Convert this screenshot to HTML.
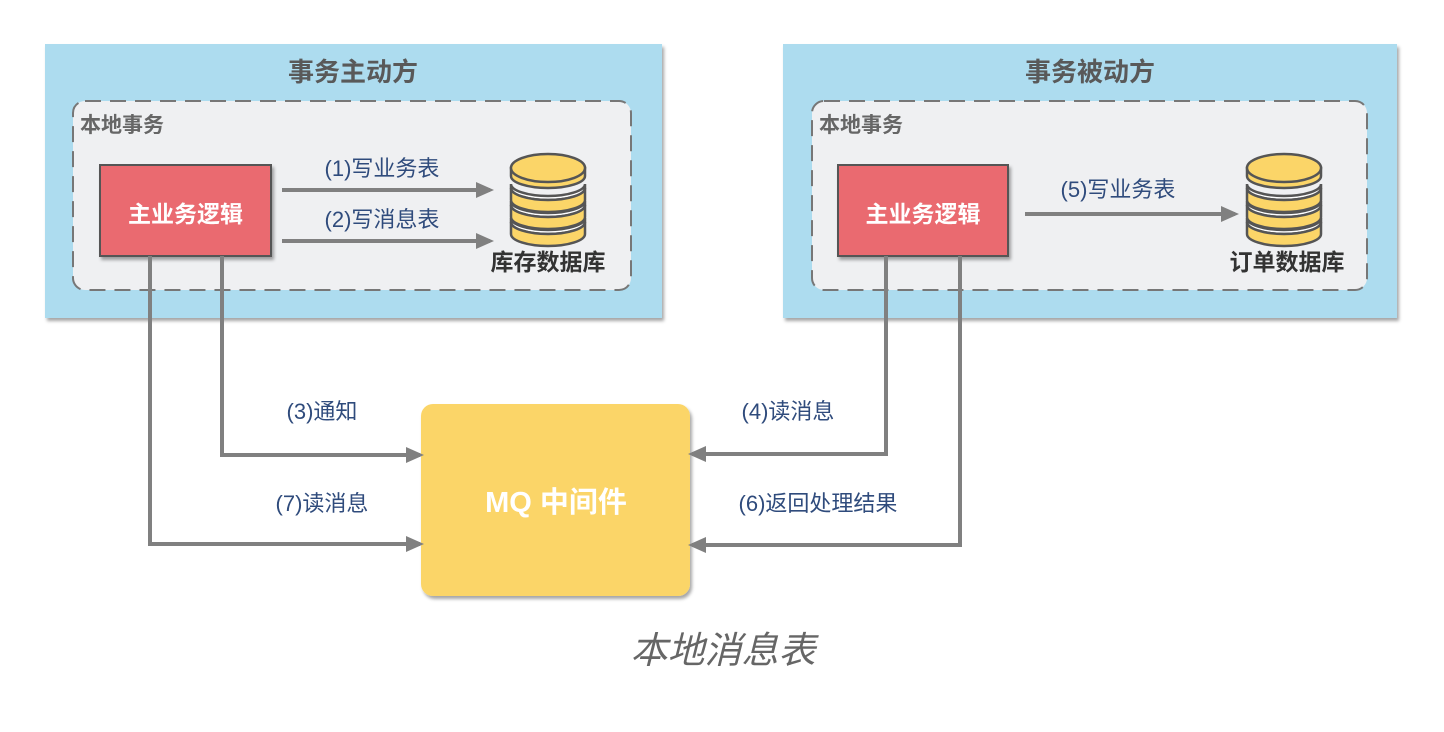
<!DOCTYPE html>
<html><head><meta charset="utf-8"><style>
html,body{margin:0;padding:0;background:#fff;}
svg text{font-family:"Liberation Sans","Noto Sans CJK SC",sans-serif;}
</style></head><body>
<svg width="1444" height="727" viewBox="0 0 1444 727" xmlns="http://www.w3.org/2000/svg">
<defs>
<filter id="sh" x="-5%" y="-5%" width="110%" height="115%"><feDropShadow dx="2" dy="3" stdDeviation="1.5" flood-color="#000" flood-opacity="0.35"/></filter>
<marker id="ar" markerWidth="18" markerHeight="16" refX="14" refY="8" orient="auto" markerUnits="userSpaceOnUse" viewBox="0 0 18 16"><path d="M0,0 L18,8 L0,16 Z" fill="#808080"/></marker>
<g id="db">
  <path d="M0,66 A37,12 0 0 0 74,66 L74,70 A37,12 0 0 1 0,70 Z" fill="#fff" stroke="#555" stroke-width="2.5"/>
  <path d="M0,70 A37,12 0 0 0 74,70 L74,82 A37,12 0 0 1 0,82 Z" fill="#fbd568" stroke="#555" stroke-width="2.5"/>
  <path d="M0,49 A37,12 0 0 0 74,49 L74,53 A37,12 0 0 1 0,53 Z" fill="#fff" stroke="#555" stroke-width="2.5"/>
  <path d="M0,53 A37,12 0 0 0 74,53 L74,65 A37,12 0 0 1 0,65 Z" fill="#fbd568" stroke="#555" stroke-width="2.5"/>
  <path d="M0,32 A37,12 0 0 0 74,32 L74,36 A37,12 0 0 1 0,36 Z" fill="#fff" stroke="#555" stroke-width="2.5"/>
  <path d="M0,36 A37,12 0 0 0 74,36 L74,48 A37,12 0 0 1 0,48 Z" fill="#fbd568" stroke="#555" stroke-width="2.5"/>
  <path d="M0,16 L0,24 A37,12 0 0 0 74,24 L74,16 Z" fill="#fbd568" stroke="#555" stroke-width="2.5"/>
  <ellipse cx="37" cy="16" rx="37" ry="14" fill="#fbd568" stroke="#555" stroke-width="2.5"/>
</g>
</defs>
<g font-family="Liberation Sans, Noto Sans CJK SC, sans-serif">
<rect x="45" y="44" width="617" height="274" fill="#addcef" filter="url(#sh)"/>
<text x="353" y="81" text-anchor="middle" font-size="26" font-weight="bold" fill="#595959">事务主动方</text>
<rect x="73" y="101" width="558" height="189" rx="12" fill="#eff0f2" stroke="#777" stroke-width="2" stroke-dasharray="16,9"/>
<text x="80" y="132" font-size="21" font-weight="bold" fill="#666">本地事务</text>
<rect x="100" y="165" width="171" height="91" fill="#ea6b70" stroke="#555" stroke-width="2" filter="url(#sh)"/>
<text x="185.5" y="222" text-anchor="middle" font-size="23" font-weight="bold" fill="#fff">主业务逻辑</text>
<line x1="282" y1="190" x2="490" y2="190" stroke="#808080" stroke-width="4" marker-end="url(#ar)"/>
<line x1="282" y1="241" x2="490" y2="241" stroke="#808080" stroke-width="4" marker-end="url(#ar)"/>
<text x="382" y="176" text-anchor="middle" font-size="22" fill="#2f4b7c">(1)写业务表</text>
<text x="382" y="227" text-anchor="middle" font-size="22" fill="#2f4b7c">(2)写消息表</text>
<use href="#db" x="511" y="152"/>
<text x="548" y="270" text-anchor="middle" font-size="23" font-weight="bold" fill="#333">库存数据库</text>

<rect x="783" y="44" width="614" height="274" fill="#addcef" filter="url(#sh)"/>
<text x="1090" y="81" text-anchor="middle" font-size="26" font-weight="bold" fill="#595959">事务被动方</text>
<rect x="812" y="101" width="555" height="189" rx="12" fill="#eff0f2" stroke="#777" stroke-width="2" stroke-dasharray="16,9"/>
<text x="819" y="132" font-size="21" font-weight="bold" fill="#666">本地事务</text>
<rect x="838" y="165" width="170" height="91" fill="#ea6b70" stroke="#555" stroke-width="2" filter="url(#sh)"/>
<text x="923" y="222" text-anchor="middle" font-size="23" font-weight="bold" fill="#fff">主业务逻辑</text>
<line x1="1025" y1="214" x2="1235" y2="214" stroke="#808080" stroke-width="4" marker-end="url(#ar)"/>
<text x="1118" y="197" text-anchor="middle" font-size="22" fill="#2f4b7c">(5)写业务表</text>
<use href="#db" x="1247" y="152"/>
<text x="1287" y="270" text-anchor="middle" font-size="23" font-weight="bold" fill="#333">订单数据库</text>

<rect x="421" y="404" width="269" height="192" rx="12" fill="#fbd568" filter="url(#sh)"/>
<text x="556" y="512" text-anchor="middle" font-size="29" font-weight="bold" fill="#fff">MQ 中间件</text>

<polyline points="150,256 150,544 420,544" fill="none" stroke="#808080" stroke-width="4" marker-end="url(#ar)"/>
<polyline points="222,256 222,455 420,455" fill="none" stroke="#808080" stroke-width="4" marker-end="url(#ar)"/>
<polyline points="886,256 886,454 692,454" fill="none" stroke="#808080" stroke-width="4" marker-end="url(#ar)"/>
<polyline points="960,256 960,545 692,545" fill="none" stroke="#808080" stroke-width="4" marker-end="url(#ar)"/>
<text x="322" y="419" text-anchor="middle" font-size="22" fill="#2f4b7c">(3)通知</text>
<text x="322" y="511" text-anchor="middle" font-size="22" fill="#2f4b7c">(7)读消息</text>
<text x="788" y="419" text-anchor="middle" font-size="22" fill="#2f4b7c">(4)读消息</text>
<text x="818" y="511" text-anchor="middle" font-size="22" fill="#2f4b7c">(6)返回处理结果</text>

<text x="723" y="663" text-anchor="middle" font-size="37" font-style="italic" fill="#666">本地消息表</text>
</g>
</svg>
</body></html>
